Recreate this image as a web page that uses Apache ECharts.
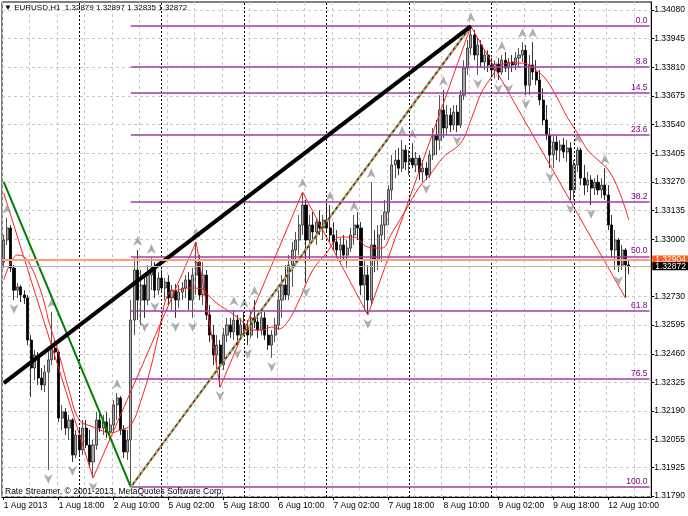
<!DOCTYPE html>
<html><head><meta charset="utf-8">
<script src="https://cdn.jsdelivr.net/npm/echarts@6/dist/echarts.min.js"></script>
<style>html,body{margin:0;padding:0;background:#fff}#c{width:688px;height:516px}</style>
</head><body><div id="c"></div>
<script>
// ---------- categories (hourly bars) ----------
const sessionDays = [['1 Aug',2,23],['2 Aug',0,23],['5 Aug',0,23],['6 Aug',0,23],['7 Aug',0,23],['8 Aug',0,23],['9 Aug',0,23],['12 Aug',0,16]];
const categories = [];
sessionDays.forEach(function(d){for(let h=d[1];h<=d[2];h++)categories.push(d[0]+' '+String(h).padStart(2,'0')+':00');});
const shiftBars = ['s1','s2','s3','s4','s5','s6'];
const allCategories = categories.concat(shiftBars);
const xTickLabels = ['1 Aug 2013','1 Aug 18:00','2 Aug 10:00','5 Aug 02:00','5 Aug 18:00','6 Aug 10:00','7 Aug 02:00','7 Aug 18:00','8 Aug 10:00','9 Aug 02:00','9 Aug 18:00','12 Aug 10:00'];
const daySeparators = ['2 Aug 00:00','5 Aug 00:00','6 Aug 00:00','7 Aug 00:00','8 Aug 00:00','9 Aug 00:00','12 Aug 00:00'];
const priceTicks = [1.34080,1.33945,1.33810,1.33675,1.33540,1.33405,1.33270,1.33135,1.33000,1.32730,1.32595,1.32460,1.32325,1.32190,1.32055,1.31925,1.31790];

// ---------- OHLC ----------
const opens = [1.32892,1.32996,1.33053,1.32864,1.32760,1.32775,1.32737,1.32723,1.32525,1.32393,
1.32454,1.32346,1.32313,1.32374,1.32431,1.32487,1.32468,1.32157,1.32186,1.32110,
1.32148,1.31983,1.32077,1.32007,1.32110,1.32030,1.31950,1.32030,1.32148,1.32110,
1.32139,1.32091,1.32124,1.32219,1.32252,1.32101,1.31997,1.32054,1.32619,1.32855,
1.32713,1.32784,1.32713,1.32831,1.32864,1.32760,1.32817,1.32770,1.32798,1.32723,
1.32760,1.32713,1.32751,1.32770,1.32808,1.32713,1.32831,1.32892,1.32737,1.32831,
1.32643,1.32548,1.32454,1.32501,1.32407,1.32548,1.32596,1.32563,1.32619,1.32548,
1.32596,1.32572,1.32548,1.32629,1.32610,1.32572,1.32629,1.32548,1.32501,1.32548,
1.32596,1.32713,1.32784,1.32737,1.32878,1.32949,1.32996,1.33067,1.33161,1.32996,
1.33067,1.33034,1.33081,1.33053,1.33090,1.33053,1.33020,1.32987,1.32949,1.32973,
1.32925,1.32958,1.33020,1.33067,1.33053,1.32784,1.32831,1.32713,1.32973,1.32902,
1.33020,1.33067,1.33128,1.33232,1.33350,1.33373,1.33335,1.33420,1.33364,1.33382,
1.33350,1.33382,1.33317,1.33335,1.33302,1.33397,1.33491,1.33467,1.33609,1.33524,
1.33585,1.33538,1.33599,1.33538,1.33679,1.33807,1.33901,1.33962,1.33868,1.33915,
1.33835,1.33868,1.33821,1.33797,1.33825,1.33788,1.33844,1.33807,1.33835,1.33821,
1.33854,1.33868,1.33891,1.33726,1.33821,1.33788,1.33750,1.33656,1.33562,1.33491,
1.33397,1.33458,1.33420,1.33444,1.33411,1.33430,1.33232,1.33350,1.33420,1.33288,
1.33255,1.33279,1.33241,1.33269,1.33232,1.33255,1.33208,1.33067,1.32949,1.32996,
1.32878,1.32949,1.32879];
const highs = [1.33020,1.33100,1.33067,1.32878,1.32793,1.32784,1.32760,1.32737,1.32548,1.32478,
1.32468,1.32393,1.32407,1.32478,1.32657,1.32525,1.32478,1.32219,1.32204,1.32172,
1.32157,1.32101,1.32110,1.32148,1.32148,1.32101,1.32054,1.32186,1.32195,1.32172,
1.32186,1.32157,1.32242,1.32275,1.32261,1.32124,1.32101,1.32713,1.32911,1.32949,
1.32855,1.32831,1.32878,1.32911,1.32892,1.32845,1.32855,1.32817,1.32831,1.32784,
1.32789,1.32784,1.32798,1.32831,1.32845,1.32864,1.32987,1.32925,1.32892,1.32855,
1.32690,1.32596,1.32548,1.32525,1.32581,1.32629,1.32629,1.32666,1.32643,1.32629,
1.32657,1.32619,1.32666,1.32713,1.32643,1.32657,1.32657,1.32596,1.32572,1.32629,
1.32760,1.32831,1.32878,1.32925,1.32987,1.33034,1.33114,1.33222,1.33185,1.33114,
1.33128,1.33100,1.33137,1.33114,1.33161,1.33161,1.33081,1.33043,1.33006,1.33020,
1.32996,1.33053,1.33114,1.33128,1.33081,1.32902,1.32878,1.33269,1.33043,1.33067,
1.33114,1.33185,1.33255,1.33397,1.33420,1.33430,1.33467,1.33444,1.33420,1.33453,
1.33411,1.33397,1.33373,1.33364,1.33420,1.33524,1.33562,1.33679,1.33703,1.33632,
1.33618,1.33632,1.33632,1.33703,1.33844,1.33938,1.34004,1.33986,1.33948,1.33938,
1.33891,1.33891,1.33854,1.33844,1.33854,1.33868,1.33882,1.33854,1.33868,1.33882,
1.33901,1.33929,1.33915,1.33868,1.33929,1.33844,1.33797,1.33712,1.33632,1.33524,
1.33491,1.33491,1.33467,1.33477,1.33467,1.33458,1.33373,1.33434,1.33430,1.33350,
1.33317,1.33302,1.33288,1.33302,1.33288,1.33335,1.33255,1.33114,1.33043,1.33006,
1.32973,1.32958,1.32897];
const lows = [1.32864,1.32973,1.32845,1.32713,1.32723,1.32704,1.32695,1.32501,1.32256,1.32336,
1.32313,1.32289,1.32280,1.31912,1.32407,1.32431,1.32139,1.32101,1.32077,1.32054,
1.31950,1.31969,1.31983,1.31983,1.32016,1.31922,1.31875,1.32007,1.32091,1.32077,
1.32063,1.32054,1.32091,1.32148,1.32077,1.31969,1.31960,1.31832,1.32548,1.32619,
1.32596,1.32629,1.32690,1.32760,1.32723,1.32737,1.32751,1.32713,1.32690,1.32666,
1.32629,1.32676,1.32713,1.32723,1.32666,1.32629,1.32737,1.32713,1.32690,1.32619,
1.32515,1.32407,1.32384,1.32303,1.32384,1.32515,1.32534,1.32525,1.32501,1.32525,
1.32548,1.32501,1.32534,1.32581,1.32534,1.32548,1.32525,1.32478,1.32440,1.32515,
1.32572,1.32629,1.32713,1.32713,1.32775,1.32892,1.32925,1.33020,1.32793,1.32902,
1.32996,1.32973,1.33020,1.32996,1.33034,1.32987,1.32949,1.32911,1.32892,1.32902,
1.32864,1.32940,1.32973,1.32996,1.32737,1.32666,1.32643,1.32690,1.32845,1.32855,
1.32892,1.32996,1.33067,1.33185,1.33288,1.33302,1.33317,1.33326,1.33302,1.33335,
1.33317,1.33279,1.33269,1.33279,1.33288,1.33373,1.33397,1.33420,1.33477,1.33491,
1.33505,1.33514,1.33505,1.33524,1.33656,1.33774,1.33868,1.33844,1.33774,1.33807,
1.33797,1.33788,1.33774,1.33759,1.33750,1.33774,1.33788,1.33750,1.33788,1.33797,
1.33807,1.33835,1.33679,1.33679,1.33750,1.33726,1.33632,1.33538,1.33467,1.33335,
1.33335,1.33373,1.33364,1.33382,1.33364,1.33185,1.33185,1.33317,1.33255,1.33208,
1.33222,1.33161,1.33208,1.33208,1.33194,1.33185,1.33043,1.32911,1.32855,1.32845,
1.32855,1.32723,1.32835];
const closes = [1.32996,1.33053,1.32864,1.32760,1.32775,1.32737,1.32723,1.32525,1.32393,1.32454,
1.32346,1.32313,1.32374,1.32431,1.32487,1.32468,1.32157,1.32186,1.32110,1.32148,
1.31983,1.32077,1.32007,1.32110,1.32030,1.31950,1.32030,1.32148,1.32110,1.32139,
1.32091,1.32124,1.32219,1.32252,1.32101,1.31997,1.32054,1.32619,1.32855,1.32713,
1.32784,1.32713,1.32831,1.32864,1.32760,1.32817,1.32770,1.32798,1.32723,1.32760,
1.32713,1.32751,1.32770,1.32808,1.32713,1.32831,1.32892,1.32737,1.32831,1.32643,
1.32548,1.32454,1.32501,1.32407,1.32548,1.32596,1.32563,1.32619,1.32548,1.32596,
1.32572,1.32548,1.32629,1.32610,1.32572,1.32629,1.32548,1.32501,1.32548,1.32596,
1.32713,1.32784,1.32737,1.32878,1.32949,1.32996,1.33067,1.33161,1.32996,1.33067,
1.33034,1.33081,1.33053,1.33090,1.33053,1.33020,1.32987,1.32949,1.32973,1.32925,
1.32958,1.33020,1.33067,1.33053,1.32784,1.32831,1.32713,1.32973,1.32902,1.33020,
1.33067,1.33128,1.33232,1.33350,1.33373,1.33335,1.33420,1.33364,1.33382,1.33350,
1.33382,1.33317,1.33335,1.33302,1.33397,1.33491,1.33467,1.33609,1.33524,1.33585,
1.33538,1.33599,1.33538,1.33679,1.33807,1.33901,1.33962,1.33868,1.33915,1.33835,
1.33868,1.33821,1.33797,1.33825,1.33788,1.33844,1.33807,1.33835,1.33821,1.33854,
1.33868,1.33891,1.33726,1.33821,1.33788,1.33750,1.33656,1.33562,1.33491,1.33397,
1.33458,1.33420,1.33444,1.33411,1.33430,1.33232,1.33350,1.33420,1.33288,1.33255,
1.33279,1.33241,1.33269,1.33232,1.33255,1.33208,1.33067,1.32949,1.32996,1.32878,
1.32949,1.32879,1.32872];

// ---------- indicators ----------
const zigzag = [[0,1.33218],[26,1.31875],[56,1.32987],[63,1.32303],[87,1.33222],[106,1.32643],[136,1.34004],[181,1.32723]];
const movingAverage = [[0,1.32808],[2,1.32888],[4,1.32925],[6,1.32916],[8,1.32869],[10,1.32793],[12,1.32690],[13,1.32619],[16,1.32464],[19,1.32289],[22,1.32148],[26,1.32115],[28,1.32101],[31,1.32087],[34,1.32101],[37,1.32124],[40,1.32242],[43,1.32407],[45,1.32548],[48,1.32746],[51,1.32761],[54,1.32770],[58,1.32765],[59,1.32746],[62,1.32699],[65,1.32666],[69,1.32619],[72,1.32572],[75,1.32572],[78,1.32586],[80,1.32577],[83,1.32619],[86,1.32713],[90,1.32855],[94,1.32935],[98,1.33010],[102,1.33010],[106,1.32963],[110,1.32958],[113,1.33029],[117,1.33137],[121,1.33246],[124,1.33302],[128,1.33387],[133,1.33453],[136,1.33562],[139,1.33689],[142,1.33764],[144,1.33811],[147,1.33830],[151,1.33830],[155,1.33797],[158,1.33750],[161,1.33670],[164,1.33576],[167,1.33500],[170,1.33420],[173,1.33373],[176,1.33326],[179,1.33232],[182,1.33090]];
const upFractalBars = [1,14,33,39,43,56,67,70,73,87,95,102,107,116,119,128,136,145,151,154,167,175];
const downFractalBars = [3,13,20,26,41,44,50,55,63,68,71,78,88,106,123,132,138,144,147,152,159,165,171,179];

// ---------- objects ----------
const fibHigh = {bar:136, price:1.34004};
const fibLow = {bar:37, price:1.31832};
const fibLevels = [0.0, 8.8, 14.5, 23.6, 38.2, 50.0, 61.8, 76.5, 100.0];
const trendBlack = [[0,1.32322],[136,1.34004]];
const trendGreen = [[0,1.33270],[37,1.31832]];
const trendDotted = [[37,1.31832],[136,1.34004]];
const horizontalLine = 1.32904;
const bidPrice = 1.32872;
const header = {symbol:'EURUSD,H1', open:'1.32879', high:'1.32897', low:'1.32835', close:'1.32872'};

const FONT = 'Liberation Sans, Arial, sans-serif';
const chart = echarts.init(document.getElementById('c'), null, {renderer:'canvas'});
const candleData = opens.map(function(o,i){return [o, closes[i], lows[i], highs[i]];});
const lastCat = allCategories.length - 1;
const fibData = fibLevels.map(function(l){
  const p = fibHigh.price - l/100*(fibHigh.price - fibLow.price);
  return [{coord:[fibLow.bar, p], label:{formatter: l.toFixed(1)}}, {coord:[lastCat, p]}];
});
const upArrow = 'path://M5,0 L10,10 L5,7 L0,10 Z';
const downArrow = 'path://M0,0 L5,3 L10,0 L5,10 Z';

chart.setOption({
  animation:false,
  backgroundColor:'#ffffff',
  grid:{left:2, right:36, top:2, bottom:19, show:true, borderColor:'#000', borderWidth:1, backgroundColor:'#fff'},
  xAxis:{type:'category', data:allCategories, boundaryGap:true,
    axisLine:{show:true, lineStyle:{color:'#000'}},
    axisTick:{show:true, alignWithLabel:true, length:3, interval:function(i){return i%16===0 && i/16<xTickLabels.length;}, lineStyle:{color:'#000'}},
    axisLabel:{interval:function(i){return i%16===0 && i/16<xTickLabels.length;}, formatter:function(v,i){return xTickLabels[i/16];}, align:'left', margin:4, color:'#000', fontSize:8.5, fontFamily:FONT},
    splitLine:{show:true, interval:function(i){return i%8===0;}, lineStyle:{color:'#c8c8c8', type:[3,3], width:1}}
  },
  yAxis:{type:'value', position:'right', min:1.31785, max:1.34118, scale:true,
    axisLine:{show:true, lineStyle:{color:'#000'}},
    axisTick:{show:true, length:3, customValues:priceTicks, lineStyle:{color:'#000'}},
    axisLabel:{customValues:priceTicks, formatter:function(v){return v.toFixed(5);}, color:'#000', fontSize:8.5, margin:3, fontFamily:FONT},
    splitLine:{show:true, lineStyle:{color:'#c8c8c8', type:[3,3], width:1}}
  },
  series:[
    {type:'candlestick', name:'EURUSD', data:candleData, barWidth:2.6, z:2,
      itemStyle:{color:'#a8a8a8', color0:'#000000', borderColor:'#2a2a2a', borderColor0:'#000000', borderWidth:0.8},
      markLine:{silent:true, symbol:'none', label:{show:false}, lineStyle:{color:'#000', type:[2,2], width:1},
        data: daySeparators.map(function(d){return {xAxis:d};})}
    },
    {type:'line', name:'MA', data:movingAverage, smooth:0.4, symbol:'none', z:3, lineStyle:{color:'#ff2020', width:1}},
    {type:'line', name:'ZigZag', data:zigzag, symbol:'none', z:3, lineStyle:{color:'#ff2020', width:1}},
    {type:'scatter', name:'FractalUp', data:upFractalBars.map(function(b){return [b, highs[b]];}), symbol:upArrow, symbolSize:[9,10], symbolOffset:[0,-9], z:4, itemStyle:{color:'#9a9a9a'}},
    {type:'scatter', name:'FractalDown', data:downFractalBars.map(function(b){return [b, lows[b]];}), symbol:downArrow, symbolSize:[9,10], symbolOffset:[0,9], z:4, itemStyle:{color:'#9a9a9a'}},
    {type:'line', name:'objects', data:[], z:5,
      markLine:{silent:true, symbol:'none', animation:false, precision:5, data:[].concat(
        fibData.map(function(d){return [Object.assign({}, d[0], {lineStyle:{color:'#a03ca8', width:1.5, type:'solid'}, label:{show:true, position:'insideEndTop', formatter:d[0].label.formatter, color:'#800080', fontSize:8.5, fontFamily:FONT, distance:[2,1]}}), d[1]];}),
        [[{coord:trendGreen[0], lineStyle:{color:'#008000', width:2, type:'solid'}, label:{show:false}}, {coord:trendGreen[1]}]],
        [[{coord:trendDotted[0], lineStyle:{color:'#a02010', width:2, type:'solid'}, label:{show:false}}, {coord:trendDotted[1]}]],
        [[{coord:trendDotted[0], lineStyle:{color:'#70d070', width:2, type:[3,3]}, label:{show:false}}, {coord:trendDotted[1]}]],
        [[{coord:trendBlack[0], lineStyle:{color:'#000', width:4, type:'solid'}, label:{show:false}}, {coord:trendBlack[1]}]],
        [{yAxis:horizontalLine, lineStyle:{color:'#ff9c7a', width:2, type:'solid'}, label:{show:true, position:'end', formatter:horizontalLine.toFixed(5), color:'#fff', backgroundColor:'#ff5a1e', padding:[0,3,0,3], fontSize:8.5, fontFamily:FONT, distance:1, lineHeight:8, verticalAlign:'bottom', offset:[0,4]}}],
        [{yAxis:bidPrice, lineStyle:{color:'#b0b0b0', width:1, type:'solid'}, label:{show:true, position:'end', formatter:bidPrice.toFixed(5), color:'#fff', backgroundColor:'#000', padding:[0,3,0,3], fontSize:8.5, fontFamily:FONT, distance:1, lineHeight:8}}]
      )}
    }
  ],
  graphic:[
    {type:'text', left:4, top:4, z:10, style:{text:'\u25BC '+header.symbol+'  '+[header.open,header.high,header.low,header.close].join(' '), fill:'#000', font:'8px '+FONT}},
    {type:'text', left:5, top:487, z:10, style:{text:'Rate Streamer, \u00A9 2001-2013, MetaQuotes Software Corp.', fill:'#000', font:'8.5px '+FONT}}
  ]
});
</script></body></html>
